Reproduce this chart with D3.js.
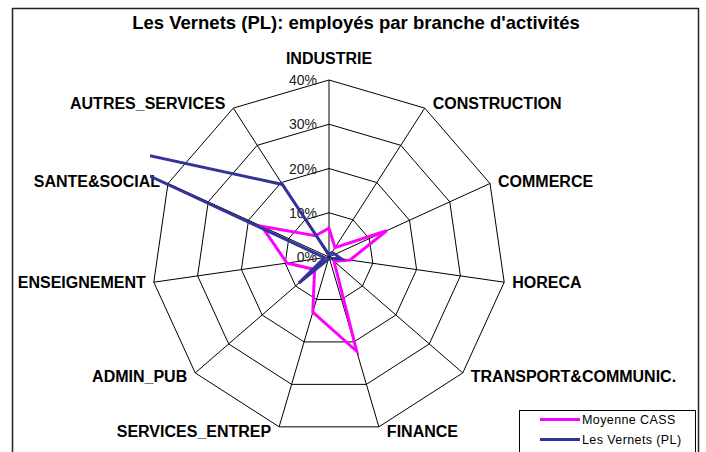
<html>
<head>
    <script src="https://d3js.org/d3.v7.min.js"></script>
    <style>
        body { margin: 0; background: #fff; }
        text { font-family: "Liberation Sans", Arial, sans-serif; }
    </style>
</head>
<body>
    <svg width="706" height="452"></svg>

    <script>
        const categories = ["INDUSTRIE", "CONSTRUCTION", "COMMERCE", "HORECA", "TRANSPORT&COMMUNIC.",
            "FINANCE", "SERVICES_ENTREP", "ADMIN_PUB", "ENSEIGNEMENT", "SANTE&SOCIAL", "AUTRES_SERVICES"];
        const moyenneCass = [6.5, 2.5, 14.3, 4.8, 1.5, 22.2, 13.0, 4.3, 9.6, 16.7, 5.7];
        const lesVernets = [0.5, 1.2, 1.5, 2.8, 0.5, 0.5, 0.5, 9.0, 1.0, 64.5, 19.5];
        const tickValues = [0, 10, 20, 30, 40];
        const seriesNames = ["Moyenne CASS", "Les Vernets  (PL)"];

        const width = 706, height = 452;
        const cx = 329, cy = 257, maxR = 177;

        const svg = d3.select("svg");

        // chart frame
        svg.append("rect")
           .attr("x", 12.5).attr("y", 8.5)
           .attr("width", 686).attr("height", 460)
           .attr("fill", "none")
           .attr("stroke", "#222")
           .attr("stroke-width", 1.5);

        svg.append("text")
           .attr("x", 356).attr("y", 22)
           .attr("text-anchor", "middle")
           .attr("dominant-baseline", "central")
           .attr("font-size", 18.5).attr("font-weight", "bold")
           .text("Les Vernets (PL): employés par branche d'activités");

        const rScale = d3.scaleLinear().domain([0, 40]).range([0, maxR]);
        const step = 2 * Math.PI / categories.length;
        const angle = i => i * step;

        const g = svg.append("g").attr("transform", `translate(${cx},${cy})`);

        // rings
        tickValues.filter(t => t > 0).forEach(t => {
            g.append("path")
             .attr("d", d3.lineRadial()
                 .angle((d, i) => angle(i))
                 .radius(() => rScale(t))
                 .curve(d3.curveLinearClosed)(categories))
             .attr("fill", "none")
             .attr("stroke", "#000")
             .attr("stroke-width", 1);
        });

        // spokes
        categories.forEach((c, i) => {
            g.append("line")
             .attr("x1", 0).attr("y1", 0)
             .attr("x2", rScale(40) * Math.sin(angle(i)))
             .attr("y2", -rScale(40) * Math.cos(angle(i)))
             .attr("stroke", "#000")
             .attr("stroke-width", 1);
        });

        // tick labels
        tickValues.forEach(t => {
            g.append("text")
             .attr("x", -12)
             .attr("y", -rScale(t))
             .attr("text-anchor", "end")
             .attr("dominant-baseline", "central")
             .attr("font-size", 14)
             .attr("fill", "#222")
             .text(t + "%");
        });

        // category labels
        categories.forEach((c, i) => {
            const s = Math.sin(angle(i)), co = Math.cos(angle(i));
            const vx = rScale(40) * s, vy = -rScale(40) * co;
            let x, y, anchor;
            if (i === 0) {
                x = vx; y = vy - 22; anchor = "middle";
            } else {
                x = vx + (s > 0 ? 8 : -8);
                y = vy - co * 5;
                anchor = s > 0 ? "start" : "end";
            }
            g.append("text")
             .attr("x", x).attr("y", y)
             .attr("text-anchor", anchor)
             .attr("dominant-baseline", "central")
             .attr("font-size", 16).attr("font-weight", "bold")
             .text(c);
        });

        // series, clipped to the plot area
        svg.append("clipPath").attr("id", "plotClip")
           .append("rect")
           .attr("x", 150).attr("y", 40)
           .attr("width", 400).attr("height", 420);

        const radar = d3.lineRadial()
            .angle((d, i) => angle(i))
            .radius(d => rScale(d))
            .curve(d3.curveLinearClosed);

        const series = [moyenneCass, lesVernets];
        const colors = ["#FF00FF", "#333399"];

        const plot = svg.append("g").attr("clip-path", "url(#plotClip)")
                        .append("g").attr("transform", `translate(${cx},${cy})`);

        series.forEach((vals, k) => {
            plot.append("path")
                .attr("d", radar(vals))
                .attr("fill", "none")
                .attr("stroke", colors[k])
                .attr("stroke-width", 3)
                .attr("stroke-linejoin", "miter");
        });

        // legend
        svg.append("rect")
           .attr("x", 519.5).attr("y", 410.5)
           .attr("width", 176).attr("height", 60)
           .attr("fill", "#fff")
           .attr("stroke", "#000")
           .attr("stroke-width", 1);

        seriesNames.forEach((name, k) => {
            const ly = 419.5 + k * 20;
            svg.append("line")
               .attr("x1", 540).attr("x2", 580)
               .attr("y1", ly).attr("y2", ly)
               .attr("stroke", colors[k])
               .attr("stroke-width", 3);
            svg.append("text")
               .attr("x", 582).attr("y", ly)
               .attr("dominant-baseline", "central")
               .attr("font-size", 12.5)
               .attr("letter-spacing", 0.4)
               .text(name);
        });
    </script>
</body>
</html>
